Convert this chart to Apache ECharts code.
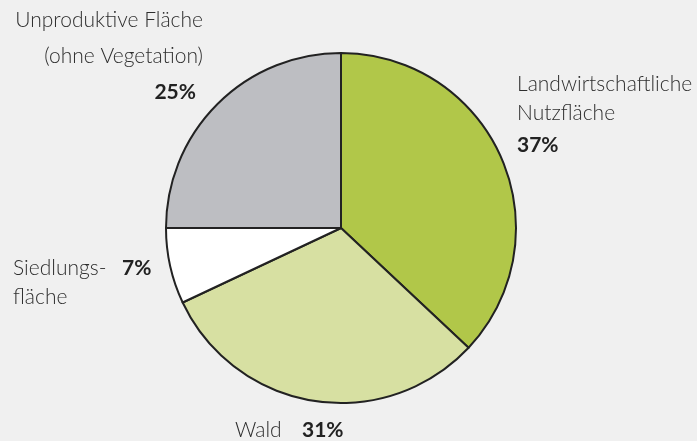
<!DOCTYPE html>
<html>
<head>
<meta charset="utf-8">
<script src="https://cdn.jsdelivr.net/npm/echarts@6/dist/echarts.min.js"></script>
<style>
  html, body { margin: 0; padding: 0; background: #f0f0f0; }
  #chart { width: 697px; height: 441px; }
</style>
</head>
<body>
<div id="chart"></div>
<script>
// Flächennutzung (Anteile in %)
const categories = ["Landwirtschaftliche Nutzfläche", "Wald", "Siedlungsfläche", "Unproduktive Fläche (ohne Vegetation)"];
const shares = [37, 31, 7, 25];
const sliceColors = ["#b1c749", "#d7e0a2", "#ffffff", "#bdbec2"];

const chart = echarts.init(document.getElementById("chart"));

const textFont = "Lato";
const light = (x, y, text, align) => ({
    type: "text", x: x, y: y,
    style: { text: text, font: "300 21px " + textFont, fill: "#2e2e2e", align: align || "left", verticalAlign: "middle" }
});
const bold = (x, y, text, align) => ({
    type: "text", x: x, y: y,
    style: { text: text, font: "bold 21px " + textFont, fill: "#222", align: align || "left", verticalAlign: "middle" }
});

const options = {
    backgroundColor: "#f0f0f0",
    animation: false,
    series: [
        {
            type: "pie",
            center: [341, 228],
            radius: [0, 175],
            startAngle: 90,
            clockwise: true,
            label: { show: false },
            labelLine: { show: false },
            itemStyle: { borderColor: "#222", borderWidth: 2 },
            data: categories.map((name, i) => ({
                name: name,
                value: shares[i],
                itemStyle: { color: sliceColors[i] }
            }))
        }
    ],
    graphic: [
        light(203, 20, "Unproduktive Fläche", "right"),
        light(203, 56, "(ohne Vegetation)", "right"),
        bold(196, 92, shares[3] + "%", "right"),
        light(517, 84, "Landwirtschaftliche"),
        light(517, 113, "Nutzfläche"),
        bold(517, 145, shares[0] + "%"),
        light(13, 268, "Siedlungs-"),
        light(13, 297, "fläche"),
        bold(122, 268, shares[2] + "%"),
        light(235, 430, "Wald"),
        bold(302, 430, shares[1] + "%")
    ]
};

chart.setOption(options);
</script>
</body>
</html>
